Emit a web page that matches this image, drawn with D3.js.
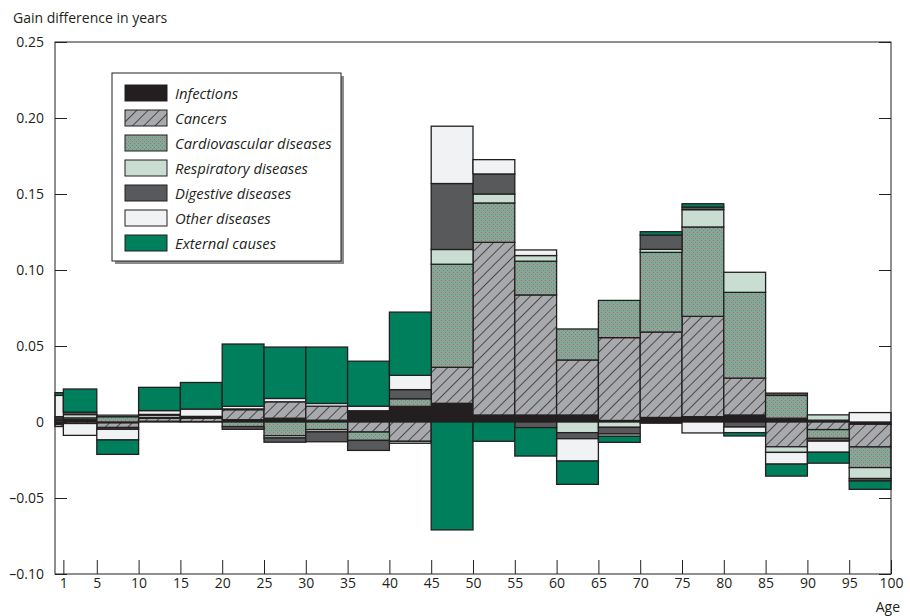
<!DOCTYPE html>
<html>
<head>
<meta charset="utf-8">
<script src="https://cdn.jsdelivr.net/npm/d3@7"></script>
<style>
  body { margin: 0; background: #fff; }
  svg { font-family: "Open Sans", sans-serif; }
</style>
</head>
<body>
<svg id="plot"></svg>
<script>
//Age groups (start and end of each bar)
const ageStart = [0, 1, 5, 10, 15, 20, 25, 30, 35, 40, 45, 50, 55, 60, 65, 70, 75, 80, 85, 90, 95];
const ageEnd   = [1, 5, 10, 15, 20, 25, 30, 35, 40, 45, 50, 55, 60, 65, 70, 75, 80, 85, 90, 95, 100];

//Gain difference in years by cause, one value per age group
const infections  = [-0.0015, 0.0015, -0.0006, 0.0005, 0.0003, 0.0015, 0.0025, 0.0012, 0.0066, 0.0103, 0.0123, 0.0046, 0.0046, 0.0046, 0.001, 0.003, 0.0035, 0.0046, 0.0025, 0.0012, -0.0015];
const cancers     = [-0.0015, -0.001, -0.003, 0.002, 0.0022, 0.0066, 0.0108, 0.0092, -0.0066, -0.0127, 0.0237, 0.1136, 0.079, 0.0362, 0.0545, 0.0562, 0.066, 0.0243, -0.0163, -0.005, -0.0149];
const cardio      = [0.001, 0.0012, 0.0035, 0.0005, 0.0005, -0.003, -0.009, -0.005, -0.0055, 0.005, 0.0678, 0.0259, 0.0222, 0.0204, 0.0245, 0.0524, 0.0588, 0.0564, 0.015, -0.0058, -0.0136];
const respiratory = [0.001, 0.0022, 0.001, 0.0015, 0.0005, 0.0005, -0.0015, -0.0015, 0.0008, -0.0013, 0.0097, 0.0059, 0.0037, -0.007, -0.0035, 0.002, 0.0114, 0.0132, -0.0037, 0.0035, -0.0072];
const digestive   = [0.0015, 0.0016, -0.0012, 0.0005, 0.0002, -0.0018, -0.0028, -0.0065, -0.0066, 0.006, 0.0434, 0.0132, -0.0037, -0.004, -0.0044, 0.0094, 0.0017, -0.0033, 0.0015, -0.0018, -0.0016];
const other       = [0.014, -0.0078, -0.007, 0.0025, 0.0048, 0.0017, 0.0022, 0.0018, 0.003, 0.0094, 0.0377, 0.0094, 0.0037, -0.0147, -0.0015, -0.0008, -0.0072, -0.0037, -0.0077, -0.0073, 0.0062];
const external    = [0.0018, 0.0152, -0.0095, 0.0153, 0.0175, 0.041, 0.0338, 0.0371, 0.0296, 0.0416, -0.071, -0.0127, -0.0187, -0.0153, -0.004, 0.0022, 0.0022, -0.0022, -0.0079, -0.0072, -0.0055];

const causeNames = ["Infections", "Cancers", "Cardiovascular diseases", "Respiratory diseases",
                    "Digestive diseases", "Other diseases", "External causes"];
const causeValues = [infections, cancers, cardio, respiratory, digestive, other, external];

//Axis ticks
const yTicks = [0.25, 0.20, 0.15, 0.10, 0.05, 0, -0.05, -0.10];
const yTickLabels = ["0.25", "0.20", "0.15", "0.10", "0.05", "0", "\u20130.05", "\u20130.10"];
const xTicks = [1, 5, 10, 15, 20, 25, 30, 35, 40, 45, 50, 55, 60, 65, 70, 75, 80, 85, 90, 95, 100];

const width = 910;
const height = 616;
const ink = "#231f20";

const svg = d3.select("#plot")
    .attr("width", width)
    .attr("height", height);

//Patterns for cancers and cardiovascular diseases
const defs = svg.append("defs");

const hatch = defs.append("pattern")
    .attr("id", "hatch")
    .attr("patternUnits", "userSpaceOnUse")
    .attr("width", 8)
    .attr("height", 8)
    .attr("patternTransform", "rotate(45)");
hatch.append("rect").attr("width", 8).attr("height", 8).attr("fill", "#a7a9ac");
hatch.append("line")
    .attr("x1", 0).attr("y1", 0).attr("x2", 0).attr("y2", 8)
    .attr("stroke", ink).attr("stroke-width", 1.4);

const dots = defs.append("pattern")
    .attr("id", "dots")
    .attr("patternUnits", "userSpaceOnUse")
    .attr("width", 4)
    .attr("height", 4);
dots.append("rect").attr("width", 4).attr("height", 4).attr("fill", "#79ad96");
dots.append("rect").attr("x", 0).attr("y", 0).attr("width", 4).attr("height", 1).attr("fill", "#97a29b");
dots.append("rect").attr("x", 1).attr("y", 0).attr("width", 1).attr("height", 1).attr("fill", "#c8587a");
dots.append("rect").attr("x", 3).attr("y", 2).attr("width", 1).attr("height", 1).attr("fill", "#b36a86");

const fills = ["#231f20", "url(#hatch)", "url(#dots)", "#c9ddd3", "#58595b", "#f1f2f3", "#007f5c"];

//Scales
const x = d3.scaleLinear().domain([0, 100]).range([55, 891]);
const y = d3.scaleLinear().domain([-0.1, 0.25]).range([574, 42]);

//Build the table for the stack
const table = ageStart.map((a, i) => {
    const row = { start: a, end: ageEnd[i] };
    causeNames.forEach((c, j) => { row[c] = causeValues[j][i]; });
    return row;
});

const series = d3.stack()
    .keys(causeNames)
    .offset(d3.stackOffsetDiverging)(table);

//Bars
const layers = svg.append("g")
    .selectAll("g")
    .data(series)
    .enter()
    .append("g")
    .attr("fill", (d, i) => fills[i]);

layers.selectAll("rect")
    .data(d => d)
    .enter()
    .append("rect")
    .attr("x", d => x(d.data.start))
    .attr("y", d => y(Math.max(d[0], d[1])))
    .attr("width", d => x(d.data.end) - x(d.data.start))
    .attr("height", d => Math.abs(y(d[0]) - y(d[1])))
    .attr("stroke", ink)
    .attr("stroke-width", 1.3);

//Frame
svg.append("rect")
    .attr("x", 55)
    .attr("y", 42)
    .attr("width", 836)
    .attr("height", 532)
    .attr("fill", "none")
    .attr("stroke", ink)
    .attr("stroke-width", 1);

//Y axis
const yAxis = svg.append("g")
    .attr("transform", "translate(55,0)")
    .call(d3.axisLeft(y)
        .tickValues(yTicks)
        .tickSize(-12)
        .tickPadding(11)
        .tickFormat((d, i) => yTickLabels[i]));

//Right side ticks
const yAxisRight = svg.append("g")
    .attr("transform", "translate(891,0)")
    .call(d3.axisRight(y).tickValues(yTicks).tickSize(-12).tickFormat(""));

//X axis
const xAxis = svg.append("g")
    .attr("transform", "translate(0,574)")
    .call(d3.axisBottom(x)
        .tickValues(xTicks)
        .tickSize(-14)
        .tickPadding(4));

[yAxis, yAxisRight, xAxis].forEach(g => {
    g.select(".domain").remove();
    g.selectAll("line").attr("stroke", ink);
    g.selectAll("text")
        .attr("fill", ink)
        .attr("font-size", "14px")
        .attr("font-family", "'Open Sans', sans-serif");
});

//Axis titles
svg.append("text")
    .attr("x", 13)
    .attr("y", 23)
    .attr("font-size", "14px")
    .attr("fill", ink)
    .text("Gain difference in years");

svg.append("text")
    .attr("x", 900)
    .attr("y", 612)
    .attr("text-anchor", "end")
    .attr("font-size", "14px")
    .attr("fill", ink)
    .text("Age");

//Legend
const legend = svg.append("g").attr("transform", "translate(112,73)");

legend.append("rect")
    .attr("x", 3).attr("y", 3)
    .attr("width", 229).attr("height", 188)
    .attr("fill", "#8a8c8e");
legend.append("rect")
    .attr("width", 229).attr("height", 188)
    .attr("fill", "#fff")
    .attr("stroke", ink)
    .attr("stroke-width", 1);

const items = legend.selectAll(".legend-item")
    .data(causeNames)
    .enter()
    .append("g")
    .attr("class", "legend-item")
    .attr("transform", (d, i) => `translate(13,${12 + 25 * i})`);

items.append("rect")
    .attr("width", 42)
    .attr("height", 16)
    .attr("fill", (d, i) => fills[i])
    .attr("stroke", ink)
    .attr("stroke-width", 1);

items.append("text")
    .attr("x", 50)
    .attr("y", 13.5)
    .attr("font-size", "14.8px")
    .attr("font-style", "italic")
    .attr("fill", ink)
    .text(d => d);
</script>
</body>
</html>
